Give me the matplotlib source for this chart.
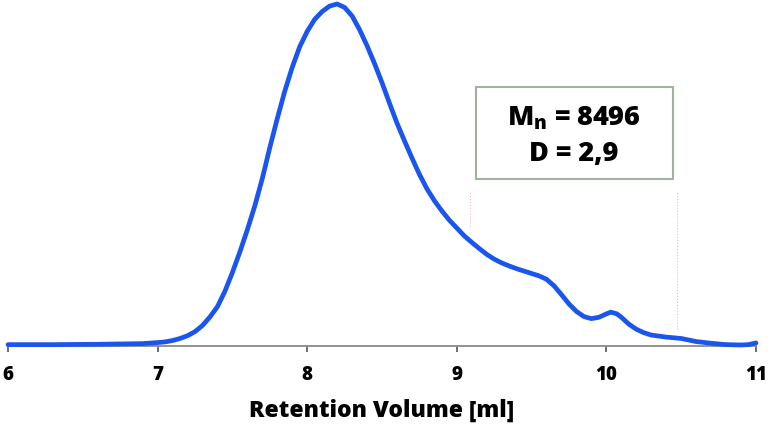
import matplotlib
matplotlib.use("Agg")
import matplotlib.pyplot as plt
from matplotlib.patches import Rectangle

# GPC trace (retention volume in ml, normalised detector signal)
volume = [6.0, 6.3, 6.6, 6.9, 7.0, 7.05, 7.1, 7.15, 7.2, 7.25, 7.3, 7.35, 7.4,
          7.45, 7.5, 7.55, 7.6, 7.65, 7.7, 7.75, 7.8, 7.85, 7.9, 7.95, 8.0,
          8.05, 8.1, 8.15, 8.2, 8.25, 8.3, 8.35, 8.4, 8.45, 8.5, 8.55, 8.6,
          8.65, 8.7, 8.75, 8.8, 8.85, 8.9, 8.95, 9.0, 9.05, 9.1, 9.15, 9.2,
          9.25, 9.3, 9.35, 9.4, 9.45, 9.5, 9.55, 9.6, 9.65, 9.7, 9.75, 9.8,
          9.85, 9.9, 9.95, 10.0, 10.03, 10.07, 10.1, 10.15, 10.2, 10.25, 10.3,
          10.4, 10.5, 10.6, 10.7, 10.8, 10.9, 10.95, 11.0]
signal = [0.004, 0.004, 0.005, 0.007, 0.010, 0.012, 0.016, 0.022, 0.030, 0.042,
          0.060, 0.085, 0.115, 0.160, 0.215, 0.275, 0.340, 0.410, 0.490, 0.580,
          0.665, 0.745, 0.815, 0.875, 0.920, 0.955, 0.978, 0.994, 1.0, 0.99,
          0.965, 0.925, 0.878, 0.826, 0.770, 0.710, 0.652, 0.600, 0.550, 0.502,
          0.460, 0.425, 0.395, 0.368, 0.345, 0.322, 0.303, 0.285, 0.268, 0.254,
          0.243, 0.234, 0.226, 0.219, 0.212, 0.205, 0.195, 0.176, 0.150, 0.123,
          0.101, 0.086, 0.080, 0.084, 0.094, 0.099, 0.094, 0.084, 0.064, 0.049,
          0.039, 0.032, 0.026, 0.022, 0.013, 0.008, 0.004, 0.003, 0.004, 0.009]
xticks = [6, 7, 8, 9, 10, 11]
box_lines = [r"M$_\mathregular{n}$ = 8496", "D = 2,9"]
xlabel = "Retention Volume [ml]"

W, H = 771, 426
plt.rcParams["font.family"] = ["Open Sans", "DejaVu Sans"]
plt.rcParams["mathtext.fontset"] = "custom"
plt.rcParams["mathtext.rm"] = "Open Sans:heavy"
fig = plt.figure(figsize=(W / 100, H / 100), dpi=100)
WT = "heavy"

# axes placed in pixel terms: x 8..756, y baseline 346, top 4
ax = fig.add_axes([8 / W, (H - 346) / H, (756 - 8) / W, (346 - 4) / H])
ax.set_xlim(6, 11)
ax.set_ylim(0, 1.0)
ax.plot(volume, signal, color="#1a55ee", lw=3.4, solid_capstyle="round",
        solid_joinstyle="round", clip_on=False, zorder=3)

# faint dotted leftovers in the original
ax.plot([9.09, 9.09], [0.35, 0.45], color="#f2b8c6", lw=0.8, ls=":", zorder=1)
ax.plot([10.47, 10.47], [0.05, 0.45], color="#f2b8c6", lw=0.8, ls=":", zorder=1)

for s in ["top", "right", "left"]:
    ax.spines[s].set_visible(False)
ax.spines["bottom"].set_color("#8a8a8a")
ax.spines["bottom"].set_linewidth(1.3)
ax.set_yticks([])
ax.set_xticks(xticks)
ax.set_xticklabels([str(t) for t in xticks], fontsize=13.5, fontweight=WT)
ax.tick_params(axis="x", direction="out", length=4.5, width=1.2,
               color="#555555", pad=9)

fig.text(382 / W, (H - 417) / H, xlabel, ha="center", va="baseline",
         fontsize=16.5, fontweight=WT)

# annotation box (pixel coords converted to figure fraction)
bx0, by0, bx1, by1 = 476, 87, 673, 179
fig.patches.append(Rectangle((bx0 / W, (H - by1) / H), (bx1 - bx0) / W,
                             (by1 - by0) / H, transform=fig.transFigure,
                             facecolor="white", edgecolor="#9fb59a", lw=1.5,
                             zorder=5))
fig.text(574 / W, (H - 125) / H, box_lines[0], ha="center", va="baseline",
         fontsize=19.5, fontweight=WT, zorder=6)
fig.text(574 / W, (H - 161) / H, box_lines[1], ha="center", va="baseline",
         fontsize=19.5, fontweight=WT, zorder=6)

fig.savefig("out.png", dpi=100)
